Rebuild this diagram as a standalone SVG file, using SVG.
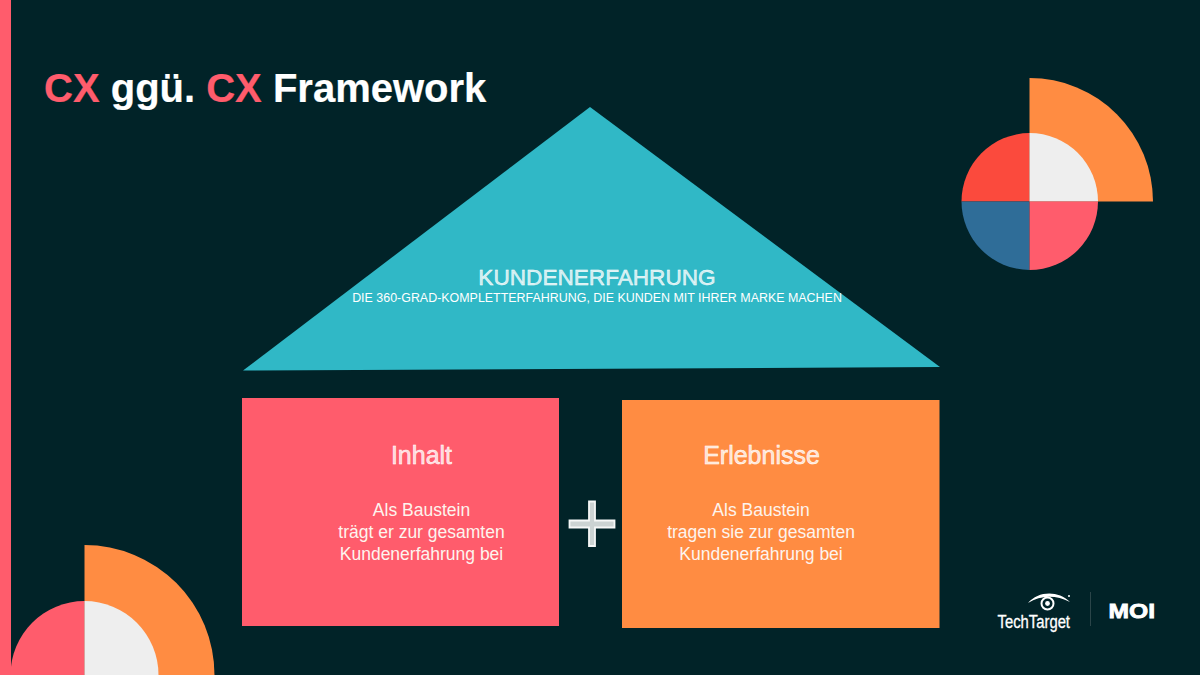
<svg xmlns="http://www.w3.org/2000/svg" width="1200" height="675" viewBox="0 0 1200 675">
<style>
text{font-family:"Liberation Sans",Arial,sans-serif;fill:#fff}
.title{font-size:40px;font-weight:700;stroke-width:.2px}
.red{fill:#ff5c6c}
.head{font-size:25px;text-anchor:middle;stroke:#fff;stroke-width:.5px;fill:#fff;fill-opacity:.75}
.body{font-size:17.500px;text-anchor:middle;fill:#fdf4ee}
.org{fill:#ff8c42}.pink{fill:#ff5c6c}.wht{fill:#eeeeee}
</style>
<rect width="1200" height="675" fill="#012328"/>
<rect id="sidebar" x="0" y="0" width="11" height="675" class="pink"/>
<g id="title"><text class="title" x="44" y="102" stroke="#fff"><tspan class="red" stroke="#ff5c6c">CX</tspan> ggü. <tspan class="red" stroke="#ff5c6c">CX</tspan> Framework</text></g>
<g id="deco-top-right">
<path class="org" d="M1029.500 78A123.500 123.500 0 0 1 1153 201.500H1029.500Z"/>
<path fill="#fb4a3d" d="M1029.500 133A68.500 68.500 0 0 0 961.500 201.500H1029.500Z"/>
<path class="wht" d="M1029.500 133A68.500 68.500 0 0 1 1098 201.500H1029.500Z"/>
<path fill="#2f6d98" d="M961.500 201.500A68.500 68.500 0 0 0 1029.500 270V201.500Z"/>
<path class="pink" d="M1098 201.500A68.500 68.500 0 0 1 1029.500 270V201.500Z"/>
</g>
<g id="deco-bottom-left">
<path class="org" d="M84.500 545A130 130 0 0 1 214.500 675H84.500Z"/>
<path class="pink" d="M84.500 601A74 74 0 0 0 10.500 675H84.500Z"/>
<path class="wht" d="M84.500 601A74 74 0 0 1 158.500 675H84.500Z"/>
</g>
<g id="roof">
<polygon points="590,107 243,370.500 940,367" fill="#30b8c6"/>
<text x="597" y="284.500" font-size="22.600" text-anchor="middle" stroke="#fff" stroke-width=".45" fill-opacity=".75">KUNDENERFAHRUNG</text>
<text x="597" y="302" font-size="12.440" text-anchor="middle" fill="#eefafb">DIE 360-GRAD-KOMPLETTERFAHRUNG, DIE KUNDEN MIT IHRER MARKE MACHEN</text>
</g>
<g id="inhalt">
<rect x="242" y="398" width="317" height="228" class="pink"/>
<text class="head" x="421.500" y="464">Inhalt</text>
<text class="body" x="421.500" y="516">Als Baustein</text>
<text class="body" x="421.500" y="538">trägt er zur gesamten</text>
<text class="body" x="421.500" y="560">Kundenerfahrung bei</text>
</g>
<g id="plus">
<path d="M589 501.500h6v19h19.500v7h-19.500v18.500h-6v-18.500h-19.500v-7h19.500z" fill="#ccd3d3" stroke="#f6f7f7" stroke-width="1.800"/>
</g>
<g id="erlebnisse">
<rect x="622" y="400" width="317.500" height="228" class="org"/>
<text class="head" x="761.500" y="464">Erlebnisse</text>
<text class="body" x="761" y="516">Als Baustein</text>
<text class="body" x="761" y="538">tragen sie zur gesamten</text>
<text class="body" x="761" y="560">Kundenerfahrung bei</text>
</g>
<g id="logos">
<path d="M1028 603C1038 591 1058 590 1070 602C1056 595 1041 595 1028 603Z" fill="#fff"/>
<circle cx="1047.500" cy="603.500" r="6" fill="none" stroke="#fff" stroke-width="2"/>
<circle cx="1047.500" cy="603.500" r="2.400" fill="#fff"/>
<circle cx="1069" cy="596" r="1" fill="#fff"/>
<text x="997.500" y="628" font-size="18" stroke="#fff" stroke-width=".3" textLength="72.500" lengthAdjust="spacingAndGlyphs">TechTarget</text>
<rect x="1090" y="592" width="1" height="34" fill="#2b4549"/>
<text x="1108.500" y="618" font-size="20" font-weight="700" textLength="46.500" lengthAdjust="spacingAndGlyphs" stroke="#fff" stroke-width=".8">MOI</text>
</g>
</svg>
